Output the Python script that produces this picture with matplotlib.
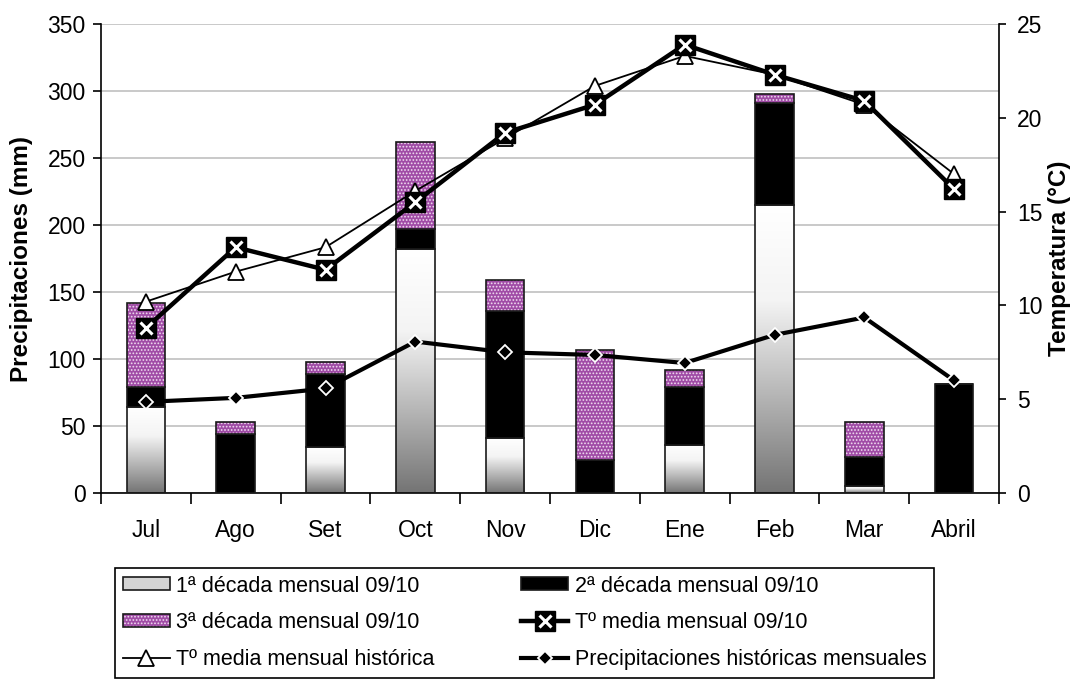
import numpy as np
import matplotlib.pyplot as plt
from matplotlib.colors import LinearSegmentedColormap
from matplotlib.patches import Patch
from matplotlib.legend_handler import HandlerTuple

plt.rcParams['font.family'] = ['Liberation Sans', 'DejaVu Sans']
plt.rcParams['hatch.linewidth'] = 0.8

# datos
meses = ['Jul', 'Ago', 'Set', 'Oct', 'Nov', 'Dic', 'Ene', 'Feb', 'Mar', 'Abril']
decada1 = [64, 0, 34, 182, 41, 0, 36, 215, 5, 0]
decada2 = [15, 44, 55, 15, 95, 25, 43, 76, 22, 81]
decada3 = [63, 9, 9, 65, 23, 82, 13, 7, 26, 0]
pp_historica = [68, 71, 78, 113, 105, 103, 97, 118, 131, 84]
t_media = [8.8, 13.1, 11.9, 15.5, 19.2, 20.7, 23.9, 22.3, 20.9, 16.2]
t_historica = [10.2, 11.8, 13.1, 16.1, 18.9, 21.7, 23.3, 22.3, 20.7, 17.0]

fig = plt.figure(figsize=(10.78, 6.83), dpi=100)
ax = fig.add_axes([101/1078, 1 - 493/683, 898/1078, 469/683])

x = np.arange(len(meses))
w = 0.43
borde = '#1a1a1a'

# 1a decada: degradado blanco -> gris
b1 = ax.bar(x, decada1, w, facecolor='none', edgecolor=borde, lw=1.2, zorder=3)
cmap = LinearSegmentedColormap.from_list('gris', ['#747474', '#b5b5b5', '#f4f4f4', '#ffffff'])
grad = np.linspace(0, 1, 256).reshape(-1, 1)
for r in b1:
    if r.get_height() <= 0:
        continue
    im = ax.imshow(grad, cmap=cmap, origin='lower', aspect='auto', zorder=2.5,
                   extent=(r.get_x(), r.get_x() + r.get_width(), 0, r.get_height()))
    im.set_clip_path(r)

b2 = ax.bar(x, decada2, w, bottom=decada1, color='black', edgecolor=borde, lw=1.2, zorder=3)
base3 = np.add(decada1, decada2)
b3 = ax.bar(x, decada3, w, bottom=base3, facecolor='#a04ca6', edgecolor='#f0dcf0',
            hatch='.....', lw=0, zorder=3)
b3o = ax.bar(x, decada3, w, bottom=base3, facecolor='none', edgecolor=borde, lw=1.2, zorder=3.1)

l_pp, = ax.plot(x, pp_historica, color='black', lw=3, marker='D', ms=7.5,
                mfc='black', mec='white', mew=1.3, zorder=5)

ax.set_xlim(-0.5, 9.5)
ax.set_ylim(0, 350)
ax.set_yticks(range(0, 351, 50))
ax.yaxis.grid(True, color='#c0c0c0', lw=1.2)
ax.set_axisbelow(True)
ax.set_xticks(x, meses)
ax.set_xticks(np.arange(-0.5, 10, 1), minor=True)
ax.tick_params(axis='x', which='major', length=0, pad=19, labelsize=16.5)
ax.tick_params(axis='x', which='minor', length=8, width=1.2, direction='out')
ax.tick_params(axis='y', length=6, width=1.2, direction='out', labelsize=16.5, pad=5)
ax.spines['top'].set_visible(False)
ax.spines['right'].set_visible(False)
for s in ['left', 'bottom']:
    ax.spines[s].set_linewidth(1.2)
ax.set_ylabel('Precipitaciones (mm)', fontsize=17.5, fontweight='bold')
ax.yaxis.set_label_coords(-0.0757, 0.5)

ax2 = ax.twinx()
l_th, = ax2.plot(x, t_historica, color='black', lw=1.3, marker='^', ms=11,
                 mfc='white', mec='black', mew=1.3, zorder=4)
l_tm, = ax2.plot(x, t_media, color='black', lw=3.2, marker='s', ms=14,
                 mfc='black', mec='black', zorder=5)
l_tx, = ax2.plot(x, t_media, ls='none', marker='x', ms=9, mec='white', mew=2.2, zorder=6)
ax2.set_ylim(0, 25)
ax2.set_yticks(range(0, 26, 5))
ax2.tick_params(axis='y', length=5, width=1.2, direction='out', labelsize=16.5, pad=8)
for s in ['top', 'left', 'bottom']:
    ax2.spines[s].set_visible(False)
ax2.spines['right'].set_linewidth(1.2)
ax2.set_ylabel('Temperatura (°C)', fontsize=17.5, fontweight='bold')
ax2.yaxis.set_label_coords(1.0546, 0.5)

h1 = Patch(facecolor='#d4d4d4', edgecolor=borde, lw=1.2)
h2 = Patch(facecolor='black', edgecolor=borde, lw=1.2)
h3 = (Patch(facecolor='#a04ca6', edgecolor='#f0dcf0', hatch='.....', lw=0),
      Patch(facecolor='none', edgecolor=borde, lw=1.2))
h4 = (l_tm, l_tx)
handles = [h1, h3, l_th, h2, h4, l_pp]
labels = ['1ª década mensual 09/10', '3ª década mensual 09/10', 'Tº media mensual histórica',
          '2ª década mensual 09/10', 'Tº media mensual 09/10', 'Precipitaciones históricas mensuales']
leg = fig.legend(handles, labels, ncol=2, loc='upper left',
                 bbox_to_anchor=(115/1078, 1 - 568/683),
                 fontsize=15.5, handlelength=2.2, handleheight=0.55, handletextpad=0.3,
                 labelspacing=0.74, columnspacing=4.0, borderpad=0.35, borderaxespad=0,
                 fancybox=False, framealpha=1, edgecolor='black',
                 handler_map={tuple: HandlerTuple(ndivide=1)})
leg.get_frame().set_linewidth(1.2)

fig.savefig('out.png', dpi=100)
